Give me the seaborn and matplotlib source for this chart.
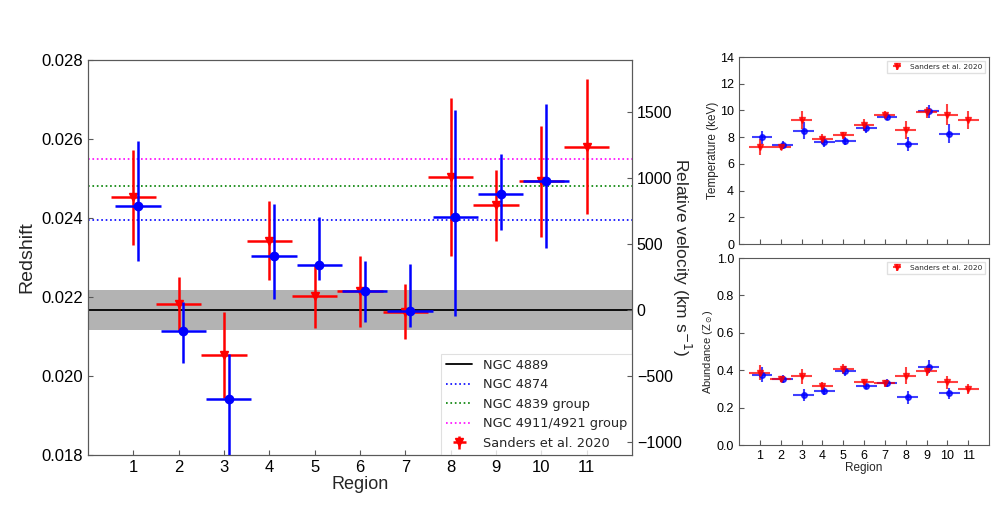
import numpy as np
import matplotlib
matplotlib.use("Agg")
import matplotlib.pyplot as plt
import seaborn as sns

# region numbers
regions = np.arange(1, 12)
regions_blue = np.arange(1, 11)

# redshift measurements (this work, blue)
z_blue = [0.02430, 0.02114, 0.01942, 0.02305, 0.02282, 0.02216, 0.02164, 0.02403, 0.02462, 0.02494]
z_blue_lo = [0.00139, 0.00080, 0.00160, 0.00110, 0.00040, 0.00080, 0.00040, 0.00250, 0.00092, 0.00169]
z_blue_hi = [0.00164, 0.00073, 0.00113, 0.00130, 0.00121, 0.00075, 0.00120, 0.00270, 0.00100, 0.00195]

# redshift measurements (Sanders et al. 2020, red)
z_red = [0.02452, 0.02183, 0.02053, 0.02342, 0.02202, 0.02214, 0.02163, 0.02503, 0.02432, 0.02493, 0.02581]
z_red_err = [0.00120, 0.00068, 0.00108, 0.00100, 0.00080, 0.00090, 0.00070, 0.00200, 0.00090, 0.00140, 0.00170]

# reference galaxies / groups
z_4889 = 0.02167
z_4889_band = 0.00051
z_4874 = 0.02395
z_4839 = 0.02481
z_4911 = 0.02549

# temperature (keV)
t_blue = [7.99, 7.41, 8.49, 7.64, 7.69, 8.68, 9.53, 7.49, 9.93, 8.26]
t_blue_err = [0.50, 0.30, 0.65, 0.35, 0.30, 0.35, 0.25, 0.55, 0.50, 0.70]
t_red = [7.24, 7.26, 9.31, 7.86, 8.14, 8.93, 9.68, 8.51, 9.86, 9.68, 9.31]
t_red_err = [0.60, 0.25, 0.67, 0.35, 0.25, 0.45, 0.25, 0.68, 0.40, 0.80, 0.67]

# abundance (Z_sun)
a_blue = [0.375, 0.352, 0.268, 0.289, 0.395, 0.313, 0.332, 0.255, 0.418, 0.277]
a_blue_err = [0.040, 0.020, 0.030, 0.020, 0.025, 0.015, 0.020, 0.035, 0.035, 0.030]
a_red = [0.386, 0.354, 0.368, 0.316, 0.407, 0.339, 0.329, 0.370, 0.396, 0.336, 0.300]
a_red_err = [0.040, 0.015, 0.040, 0.020, 0.025, 0.015, 0.020, 0.045, 0.025, 0.035, 0.025]

c_kms = 299792.458

sns.set_style("ticks")
plt.rcParams['font.family'] = ['Liberation Sans', 'DejaVu Sans']
plt.rcParams['axes.edgecolor'] = '0.35'
plt.rcParams['xtick.direction'] = 'in'
plt.rcParams['ytick.direction'] = 'in'
plt.rcParams['xtick.color'] = '0.35'
plt.rcParams['ytick.color'] = '0.35'
plt.rcParams['xtick.labelcolor'] = 'black'
plt.rcParams['ytick.labelcolor'] = 'black'

fig = plt.figure(figsize=(10.07, 5.09), dpi=100)

# main redshift panel
ax = fig.add_axes([0.0874, 0.1061, 0.5402, 0.776])
ax.axhspan(z_4889 - z_4889_band, z_4889 + z_4889_band, color='#b3b3b3', lw=0, zorder=0)
ax.axhline(z_4889, color='black', lw=1.3, label='NGC 4889')
ax.axhline(z_4874, color='blue', ls=':', lw=1.2, label='NGC 4874')
ax.axhline(z_4839, color='green', ls=':', lw=1.2, label='NGC 4839 group')
ax.axhline(z_4911, color='magenta', ls=':', lw=1.2, label='NGC 4911/4921 group')

ax.errorbar(regions, z_red, yerr=z_red_err, xerr=0.5, fmt='v', color='red', ms=6,
            elinewidth=1.8, capsize=0, label='Sanders et al. 2020', zorder=3)
ax.errorbar(regions_blue + 0.1, z_blue, yerr=[z_blue_lo, z_blue_hi], xerr=0.5, fmt='o',
            color='blue', ms=6, elinewidth=1.8, capsize=0, zorder=4)

ax.set_xlim(0, 12)
ax.set_ylim(0.018, 0.028)
ax.set_xticks(regions)
ax.set_yticks([0.018, 0.020, 0.022, 0.024, 0.026, 0.028])
ax.set_yticklabels(['0.018', '0.020', '0.022', '0.024', '0.026', '0.028'])
ax.tick_params(labelsize=12)
ax.set_xlabel('Region', fontsize=13, labelpad=1)
ax.set_ylabel('Redshift', fontsize=14, labelpad=4)

leg = ax.legend(loc='lower right', borderaxespad=0, frameon=True, fancybox=False,
                edgecolor='0.85', prop={'family': 'DejaVu Sans', 'size': 9.3})
leg.get_frame().set_linewidth(0.8)

# velocity axis relative to NGC 4889
ax2 = ax.twinx()
ax2.set_ylim((0.018 - z_4889) * c_kms, (0.028 - z_4889) * c_kms)
ax2.set_yticks([-1000, -500, 0, 500, 1000, 1500])
ax2.tick_params(labelsize=11.5)
ax2.set_ylabel('Relative velocity (km s$^{-1}$)', fontsize=12.5, rotation=270, labelpad=8)

# temperature panel
axt = fig.add_axes([0.7339, 0.5206, 0.2483, 0.3674])
axt.errorbar(regions_blue + 0.1, t_blue, yerr=t_blue_err, xerr=0.5, fmt='o', color='blue',
             ms=4, elinewidth=1.5, capsize=0, alpha=0.75)
axt.errorbar(regions, t_red, yerr=t_red_err, xerr=0.5, fmt='v', color='red', ms=4,
             elinewidth=1.5, capsize=0, alpha=0.75, label='Sanders et al. 2020')
axt.set_xlim(0, 12)
axt.set_ylim(0, 14)
axt.set_xticks(regions)
axt.set_xticklabels([])
axt.set_yticks(range(0, 15, 2))
axt.tick_params(labelsize=9)
axt.set_ylabel('Temperature (keV)', fontsize=8.5, labelpad=1)
axt.legend(loc='upper right', fancybox=False, edgecolor='0.85',
           prop={'family': 'DejaVu Sans', 'size': 5.3})

# abundance panel
axa = fig.add_axes([0.7339, 0.1257, 0.2483, 0.3674])
axa.errorbar(regions_blue + 0.1, a_blue, yerr=a_blue_err, xerr=0.5, fmt='o', color='blue',
             ms=4, elinewidth=1.5, capsize=0, alpha=0.75)
axa.errorbar(regions, a_red, yerr=a_red_err, xerr=0.5, fmt='v', color='red', ms=4,
             elinewidth=1.5, capsize=0, alpha=0.75, label='Sanders et al. 2020')
axa.set_xlim(0, 12)
axa.set_ylim(0, 1.0)
axa.set_xticks(regions)
axa.set_yticks([0.0, 0.2, 0.4, 0.6, 0.8, 1.0])
axa.set_yticklabels(['0.0', '0.2', '0.4', '0.6', '0.8', '1.0'])
axa.tick_params(labelsize=9)
axa.set_xlabel('Region', fontsize=8.5, labelpad=0)
axa.set_ylabel(r'Abundance (Z$_\odot$)', fontsize=8, labelpad=1)
axa.legend(loc='upper right', fancybox=False, edgecolor='0.85',
           prop={'family': 'DejaVu Sans', 'size': 5.3})

fig.savefig('out.png', dpi=100)
